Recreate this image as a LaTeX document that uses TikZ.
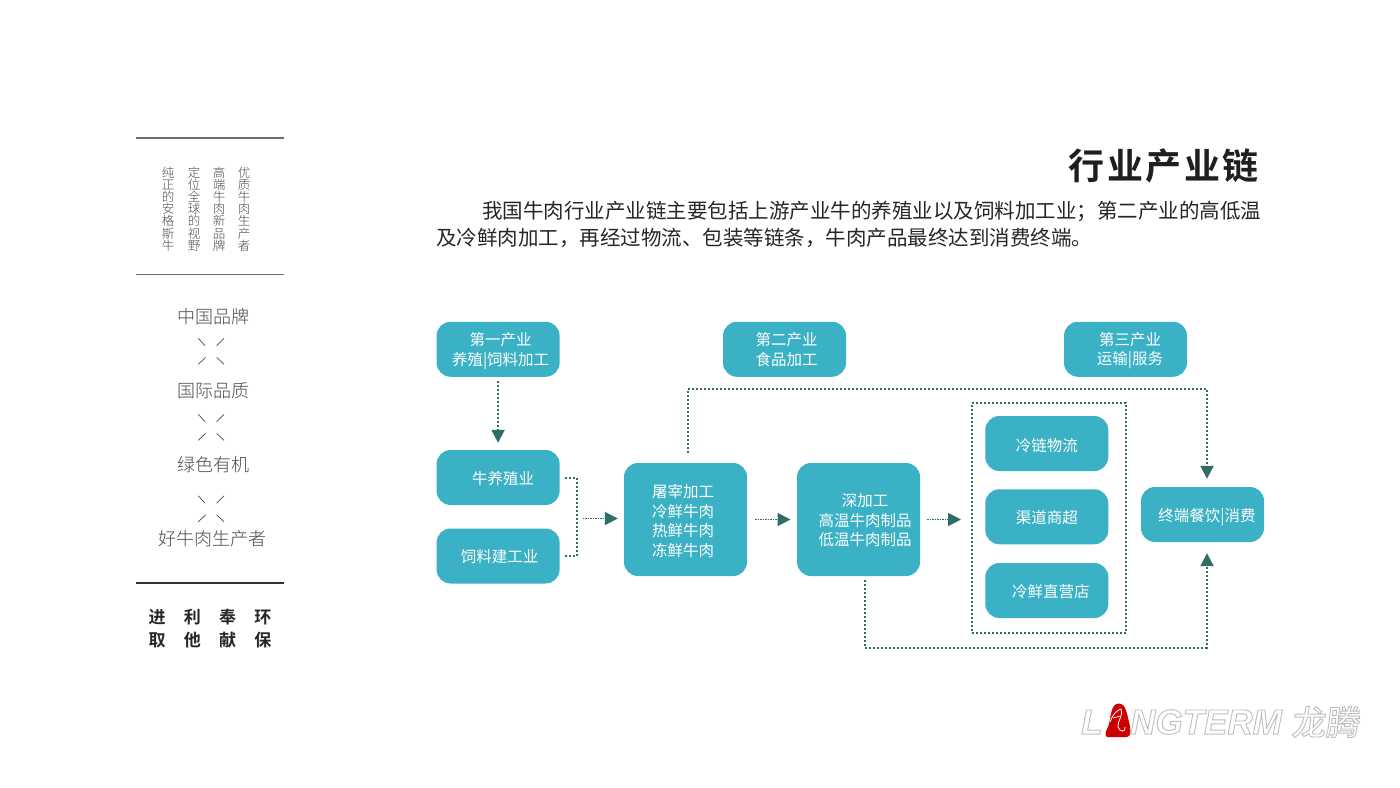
\documentclass[tikz,border=0pt]{standalone}
\usepackage{fontspec}
\usetikzlibrary{arrows.meta,calc}
\setmainfont{Noto Sans CJK SC}[BoldFont={Noto Sans CJK SC Bold}]
\newfontfamily\cjklight{Noto Sans CJK SC Light}
\newfontfamily\cjkspaced{Noto Sans CJK SC Bold}[LetterSpace=7]
\newfontfamily\cjkwide{Noto Sans CJK SC Bold}[LetterSpace=107]
\newfontfamily\logolatin{Liberation Sans Bold Italic}
\newfontfamily\logocjk{Noto Sans CJK SC Medium}[FakeSlant=0.1]
\definecolor{boxteal}{RGB}{58,177,196}
\definecolor{linkgreen}{RGB}{47,110,102}
\definecolor{ruleGray}{RGB}{110,110,110}
\definecolor{textGray}{RGB}{75,75,75}
\newcommand\boxtxtat[3]{\makebox[0pt]{\hspace{#1pt}\raisebox{#2pt}[0pt][0pt]{\begin{tabular}{@{}c@{}}#3\end{tabular}}}}
\newcommand\boxtxt[2]{\boxtxtat{#1}{-7}{#2}}
\newcommand\outlined[1]{\special{pdf:code q 1 Tr 0.9 w 0.74 0.74 0.74 RG}#1\special{pdf:code Q}}
\tikzset{
  x=1pt,y=-1pt,
  bx/.style={fill=boxteal,text=white,rounded corners=14pt,inner sep=0pt,minimum width=123pt,
    minimum height=55pt,font=\fontsize{15.5}{19.5}\selectfont},
  bigbx/.style={bx,minimum height=113pt},
  link/.style={draw=linkgreen,line width=2pt,dash pattern=on 2pt off 2pt},
  shortlink/.style={draw=linkgreen,line width=1.8pt,dash pattern=on 1.5pt off 1pt},
  tip/.style={-{Triangle[length=13pt,width=13pt,fill=linkgreen]}},
  xmark/.style={draw=textGray,line width=0.7pt},
  leftlabel/.style={text=textGray,inner sep=0pt,font=\cjklight\fontsize{18}{18}\selectfont},
  vert/.style={text=textGray,inner sep=0pt,align=center,anchor=north,font=\cjklight\fontsize{12.5}{12.2}\selectfont},
}
\begin{document}
\begin{tikzpicture}
\useasboundingbox (0,0) rectangle (1400,787);
\fill[white] (0,0) rectangle (1400,787);

% left panel
\draw[ruleGray,line width=1.2pt] (136,138) -- (284,138);
\draw[ruleGray,line width=1.2pt] (136,274.5) -- (284,274.5);
\draw[black!80,line width=2pt] (136,582.5) -- (284,582.5);
\node[vert] (v1) at (168,166.5) {纯\\正\\的\\安\\格\\斯\\牛};
\node[vert] (v2) at (194,166.5) {定\\位\\全\\球\\的\\视\\野};
\node[vert] (v3) at (219,166.5) {高\\端\\牛\\肉\\新\\品\\牌};
\node[vert] (v4) at (244,166.5) {优\\质\\牛\\肉\\生\\产\\者};
\node[leftlabel] (l1) at (213,317) {中国品牌};
\node[leftlabel] (l2) at (213,391) {国际品质};
\node[leftlabel] (l3) at (213,465) {绿色有机};
\node[leftlabel] (l4) at (212.5,539) {好牛肉生产者};
\foreach \dy in {0,76,157.5}{
  \draw[xmark] (198.3,338.3+\dy) -- (205,345.7+\dy);
  \draw[xmark] (224,338.3+\dy) -- (216.7,345.7+\dy);
  \draw[xmark] (198.3,364.3+\dy) -- (205.7,357.3+\dy);
  \draw[xmark] (224,364.3+\dy) -- (216.7,357.3+\dy);
}
\node[anchor=west,inner sep=0pt,text=black!85,font=\cjkwide\fontsize{17}{17}\selectfont] (b1) at (148.5,617) {进利奉环};
\node[anchor=west,inner sep=0pt,text=black!85,font=\cjkwide\fontsize{17}{17}\selectfont] (b2) at (148.5,640.5) {取他献保};

% heading
\node[anchor=west,inner sep=0pt,text=black!88,font=\cjkspaced\fontsize{36}{36}\selectfont] (title) at (1068.5,166) {行业产业链};
\node[anchor=west,inner sep=0pt,text=black!85,font=\fontsize{20.5}{20.5}\selectfont] (p1) at (482,211) {我国牛肉行业产业链主要包括上游产业牛的养殖业以及饲料加工业；第二产业的高低温};
\node[anchor=west,inner sep=0pt,text=black!85,font=\fontsize{20.5}{20.5}\selectfont] (p2) at (436,238) {及冷鲜肉加工，再经过物流、包装等链条，牛肉产品最终达到消费终端。};

% chain container
\node[link,inner sep=0pt,minimum width=154pt,minimum height=230pt] (chan) at (1049,518) {};

% boxes
\node[bx] (ind1) at (498.1,349.25) {\boxtxtat{5}{-6}{第一产业\\养殖|饲料加工}};
\node[bx] (ind2) at (784.5,349.25) {\boxtxtat{4}{-6}{第二产业\\食品加工}};
\node[bx] (ind3) at (1125.5,349.25) {\boxtxtat{9}{-5.5}{第三产业\\运输|服务}};
\node[bx] (niu) at (498.1,477.5) {\boxtxt{10}{牛养殖业}};
\node[bx] (feed) at (498.1,556) {\boxtxtat{3}{-6.5}{饲料建工业}};
\node[bigbx] (tu) at (685.5,519.5) {\boxtxt{-5}{屠宰加工\\冷鲜牛肉\\热鲜牛肉\\冻鲜牛肉}};
\node[bigbx] (shen) at (858.5,519.5) {\boxtxtat{13}{-6.5}{深加工\\高温牛肉制品\\低温牛肉制品}};
\node[bx] (cold) at (1046.8,443.5) {\boxtxtat{0}{-8}{冷链物流}};
\node[bx] (qu) at (1046.8,516.75) {\boxtxtat{0}{-6}{渠道商超}};
\node[bx] (fresh) at (1046.8,590.5) {\boxtxt{8}{冷鲜直营店}};
\node[bx] (zhong) at (1202.5,514.5) {\boxtxt{9}{终端餐饮|消费}};

% connectors
\coordinate (bk) at (577,518.5);
\coordinate (top) at (1207,389);
\coordinate (bot) at (1207,647.5);
\draw[link,tip,shorten <=4.5pt,shorten >=7pt] (ind1.south) -- (niu.north);
\draw[link,shorten <=5.5pt,shorten >=5.5pt] (niu.east) -| (bk) |- (feed.east);
\draw[shortlink,tip,shorten <=5.5pt,shorten >=6pt] (bk) -- (bk -| tu.west);
\draw[shortlink,tip,shorten <=8pt,shorten >=6.3pt] (tu.east) -- (shen.west);
\draw[shortlink,tip,shorten <=7pt,shorten >=10pt] (shen.east) -- (shen.east -| chan.west);
\draw[link,tip,shorten <=10pt,shorten >=8pt] ([xshift=2.5pt]tu.north) |- (top) -- ([xshift=4.5pt]zhong.north);
\draw[link,tip,shorten <=4pt,shorten >=11pt] ([xshift=6pt]shen.south) |- (bot) -- ([xshift=4.5pt]zhong.south);

% logo
\node[anchor=west,inner sep=0pt,font=\logolatin\fontsize{35}{35}\selectfont] (logoL) at (1081,722) {\outlined{L}};
\node[anchor=west,inner sep=0pt,font=\logolatin\fontsize{35}{35}\selectfont] (logoN) at (1130,722) {\outlined{NGTERM}};
\node[anchor=west,inner sep=0pt,font=\logocjk\fontsize{34}{34}\selectfont] (logoC) at (1291,722) {\outlined{龙腾}};
\fill[red!80!black] (1107,737) .. controls (1104,735) and (1106,731) .. (1108,727)
  .. controls (1111,720) and (1110,703) .. (1119,703.5)
  .. controls (1126,704) and (1127,714) .. (1129,722)
  .. controls (1131,730) and (1131,737) .. (1127,737) -- cycle;
\draw[white,line width=0.8pt] (1110,722) .. controls (1113,714) and (1116,711) .. (1121,709)
  .. controls (1124,714) and (1117,722) .. (1118,727) .. controls (1120,733) and (1126,732) .. (1125,727);
\draw[white,line width=0.7pt] (1113,718) -- (1120,716);
\end{tikzpicture}
\end{document}
